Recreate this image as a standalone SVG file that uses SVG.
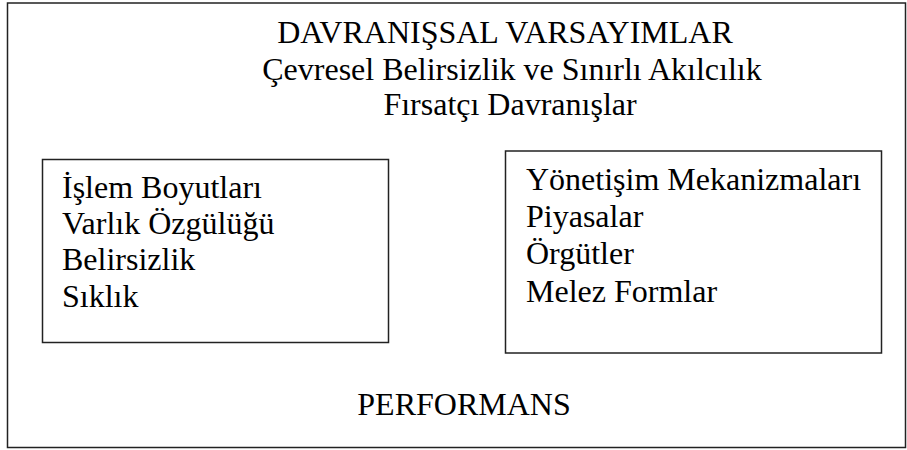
<svg xmlns="http://www.w3.org/2000/svg" width="907" height="450" viewBox="0 0 907 450">
<style>
.box{fill:none;stroke:#222;stroke-width:1.5}
.t{font-family:"Liberation Serif","Times New Roman",serif;font-size:32px;fill:#000}
.c{text-anchor:middle}
</style>
<rect width="907" height="450" fill="#fff"/>
<g id="outer">
<rect class="box" x="7.5" y="3" width="898" height="444.5"/>
<text class="t c" x="505" y="43">DAVRANIŞSAL VARSAYIMLAR</text>
<text class="t c" x="512" y="80">Çevresel Belirsizlik ve Sınırlı Akılcılık</text>
<text class="t c" x="510" y="115">Fırsatçı Davranışlar</text>
<text class="t c" x="464" y="415">PERFORMANS</text>
</g>
<g id="islem">
<rect class="box" x="42.5" y="159.5" width="346" height="183"/>
<text class="t" x="62" y="198">İşlem Boyutları</text>
<text class="t" x="62" y="234">Varlık Özgülüğü</text>
<text class="t" x="62" y="270">Belirsizlik</text>
<text class="t" x="62" y="306.5">Sıklık</text>
</g>
<g id="yonetisim">
<rect class="box" x="505.5" y="151" width="376" height="202"/>
<text class="t" x="526" y="190">Yönetişim Mekanizmaları</text>
<text class="t" x="526" y="227">Piyasalar</text>
<text class="t" x="526" y="264">Örgütler</text>
<text class="t" x="526" y="301.5">Melez Formlar</text>
</g>
<g id="connectors"></g>
</svg>
